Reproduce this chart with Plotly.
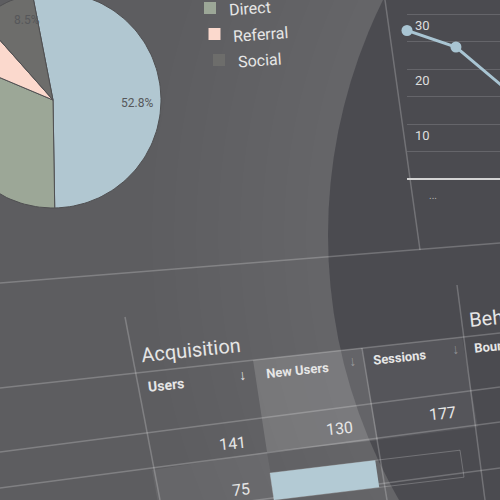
import math
import plotly.graph_objects as go

# ---- data -------------------------------------------------------------
channels = ["Organic Search", "Direct", "Referral", "Social"]
channel_share = [52.8, 31.6, 7.1, 8.5]
channel_colors = ["#b1c7d1", "#9ca797", "#fbd9cd", "#6d6d6b"]

trend_index = [0, 1, 2, 3]
trend_users = [27, 24, 16.5, 12]
trend_ticks = [10, 20, 30]

metric_names = ["Users", "New Users", "Sessions"]
row1_values = [141, 130, 177]
row2_users = 75
row2_new_users = 72

# ---- styling constants --------------------------------------------------
FONT = "Roboto"
BG = "#5d5d60"
LINE = "rgba(255,255,255,0.22)"
TEXT = "#e6e6e6"
TILT = -6

fig = go.Figure()
shapes = []
annotations = []


def seg(x0, y0, x1, y1, color=LINE, width=1.5):
    shapes.append(dict(type="line", xref="x", yref="y", x0=x0, y0=y0, x1=x1, y1=y1,
                       line=dict(color=color, width=width), layer="below"))


def quad(pts, fill, line=None):
    d = "M " + " L ".join(f"{x},{y}" for x, y in pts) + " Z"
    shapes.append(dict(type="path", xref="x", yref="y", path=d, fillcolor=fill,
                       line=dict(color=line or "rgba(0,0,0,0)", width=1 if line else 0),
                       layer="below"))


# ---- background glow and lens circle ----------------------------------
LX, LY, LR = 858, 235, 530
for k in range(8, 0, -1):
    r = LR + 22 * k
    shapes.append(dict(type="circle", xref="x", yref="y", x0=LX - r, x1=LX + r,
                       y0=LY - r, y1=LY + r, fillcolor="rgba(255,255,255,0.013)",
                       line=dict(width=0), layer="below"))
shapes.append(dict(type="circle", xref="x", yref="y", x0=LX - LR, x1=LX + LR,
                   y0=LY - LR, y1=LY + LR, fillcolor="rgba(18,18,26,0.30)",
                   line=dict(width=0), layer="below"))

# ---- pie chart (channel share) -------------------------------------------
PCX, PCY, PR = 53, 100, 108
start = -11.0
total = sum(channel_share)
angle = start
for name, share, color in zip(channels, channel_share, channel_colors):
    sweep = 360.0 * share / total
    steps = max(4, int(sweep / 2))
    xs, ys = [PCX], [PCY]
    for i in range(steps + 1):
        a = math.radians(angle + sweep * i / steps)
        xs.append(PCX + PR * math.sin(a))
        ys.append(PCY - PR * math.cos(a))
    xs.append(PCX)
    ys.append(PCY)
    fig.add_trace(go.Scatter(x=xs, y=ys, mode="lines", fill="toself", fillcolor=color,
                             line=dict(color="#505052", width=1), name=name,
                             hoverinfo="skip", showlegend=False))
    if share >= 8:
        mid = math.radians(angle + sweep / 2 + 8)
        annotations.append(dict(x=PCX + 0.78 * PR * math.sin(mid),
                                y=PCY - 0.78 * PR * math.cos(mid),
                                text=f"{share}%", showarrow=False,
                                font=dict(family=FONT, size=12, color="#56575a")))
    angle += sweep

# legend for the pie
leg_x, leg_y = [], []
for i, (name, color) in enumerate(zip(channels, channel_colors)):
    lx, ly = 205.5 + 4.5 * i, -18 + 26 * i
    leg_x.append(lx)
    leg_y.append(ly)
    if ly > 0:
        annotations.append(dict(x=lx + 16, y=ly, xanchor="left", text=name, showarrow=False,
                                textangle=-4, font=dict(family=FONT, size=16, color=TEXT)))
fig.add_trace(go.Scatter(x=leg_x, y=leg_y, mode="markers", hoverinfo="skip", showlegend=False,
                         marker=dict(symbol="square", size=12, color=channel_colors,
                                     line=dict(width=0))))

# ---- section dividers ------------------------------------------------
seg(0, 283, 500, 243)
seg(385, 0, 420, 250)

# ---- table -------------------------------------------------------------
# cell shading
quad([(253, 360), (362, 348), (378, 440), (267, 452)], "rgba(255,255,255,0.14)")
quad([(362, 348), (462, 337), (478, 427), (378, 440)], "rgba(255,255,255,0.06)")
quad([(152, 470), (267, 452), (276, 505), (161, 520)], "rgba(255,255,255,0.06)")

# grid lines
seg(0, 388, 500, 333)
seg(0, 452, 500, 387)
seg(0, 488, 500, 422)
seg(0, 534, 500, 468)
seg(125, 317, 160, 500)
seg(362, 348, 387, 500)
seg(457, 285, 485, 500)

# progress bar for new users in row 2
bx0, bx1, by0, bh = 270, 460, 473, 27
slope = -0.12
frac = row2_new_users / row1_values[1]
bxf = bx0 + frac * (bx1 - bx0)


def top(x):
    return by0 + slope * (x - bx0)


quad([(bx0, top(bx0)), (bx1, top(bx1)), (bx1 + 4, top(bx1) + bh), (bx0 + 4, top(bx0) + bh)],
     "rgba(0,0,0,0)", line="rgba(255,255,255,0.22)")
quad([(bx0, top(bx0)), (bxf, top(bxf)), (bxf + 4, top(bxf) + bh), (bx0 + 4, top(bx0) + bh)],
     "#b3cad4")


# table texts
def label(x, y, text, size=14, color=TEXT, bold=False, anchor="center"):
    annotations.append(dict(x=x, y=y, text=f"<b>{text}</b>" if bold else text, showarrow=False,
                            xanchor=anchor, textangle=TILT,
                            font=dict(family=FONT, size=size, color=color)))


label(138, 350, "Acquisition", size=20, anchor="left")
label(466, 316, "Behavior", size=20, anchor="left")
label(145, 385, metric_names[0], size=14, bold=True, anchor="left")
label(263, 370, metric_names[1], size=13, bold=True, anchor="left")
label(370, 357, metric_names[2], size=13, bold=True, anchor="left")
label(471, 344, "Bounce Rate", size=13, bold=True, anchor="left")
label(242, 375, "↓", size=14, bold=True)
label(352, 361, "↓", size=14, bold=True, color="rgba(255,255,255,0.35)")
label(455, 349, "↓", size=14, bold=True, color="rgba(255,255,255,0.35)")
label(249, 443, str(row1_values[0]), size=16, anchor="right")
label(356, 428, str(row1_values[1]), size=16, anchor="right")
label(459, 413, str(row1_values[2]), size=16, anchor="right")
label(253, 489, str(row2_users), size=16, anchor="right")

# ---- trend line chart ---------------------------------------------------
fig.add_trace(go.Scatter(x=trend_index, y=trend_users, xaxis="x2", yaxis="y2", mode="lines+markers",
                         line=dict(color="#a9c5d3", width=3),
                         marker=dict(size=11, color="#a9c5d3"),
                         cliponaxis=False, hoverinfo="skip", showlegend=False))
annotations.append(dict(x=433, y=195, text="...", showarrow=False,
                        font=dict(family=FONT, size=10, color="#b8b8b8")))

fig.update_layout(
    width=500, height=500,
    margin=dict(l=0, r=0, t=0, b=0),
    paper_bgcolor=BG, plot_bgcolor="rgba(0,0,0,0)",
    showlegend=False,
    xaxis=dict(range=[0, 500], domain=[0, 1], visible=False, fixedrange=True),
    yaxis=dict(range=[500, 0], domain=[0, 1], visible=False, fixedrange=True),
    xaxis2=dict(domain=[0.814, 1.0], range=[0, 1.9], anchor="y2", visible=False),
    yaxis2=dict(domain=[0.6387, 0.9984], range=[-0.3, 32.4], anchor="x2",
                tickvals=trend_ticks, ticklabelposition="inside", ticklabelshift=11,
                ticklabelstandoff=5, tickfont=dict(family=FONT, size=13, color="#dedede"),
                showgrid=True, gridcolor="rgba(255,255,255,0.15)", gridwidth=1,
                minor=dict(tickvals=[5, 15, 25], showgrid=True,
                           gridcolor="rgba(255,255,255,0.15)"),
                zeroline=True, zerolinecolor="#d4d4d4", zerolinewidth=2,
                showline=False, ticks=""),
    shapes=shapes,
    annotations=annotations,
)

fig.write_html("out.html")
